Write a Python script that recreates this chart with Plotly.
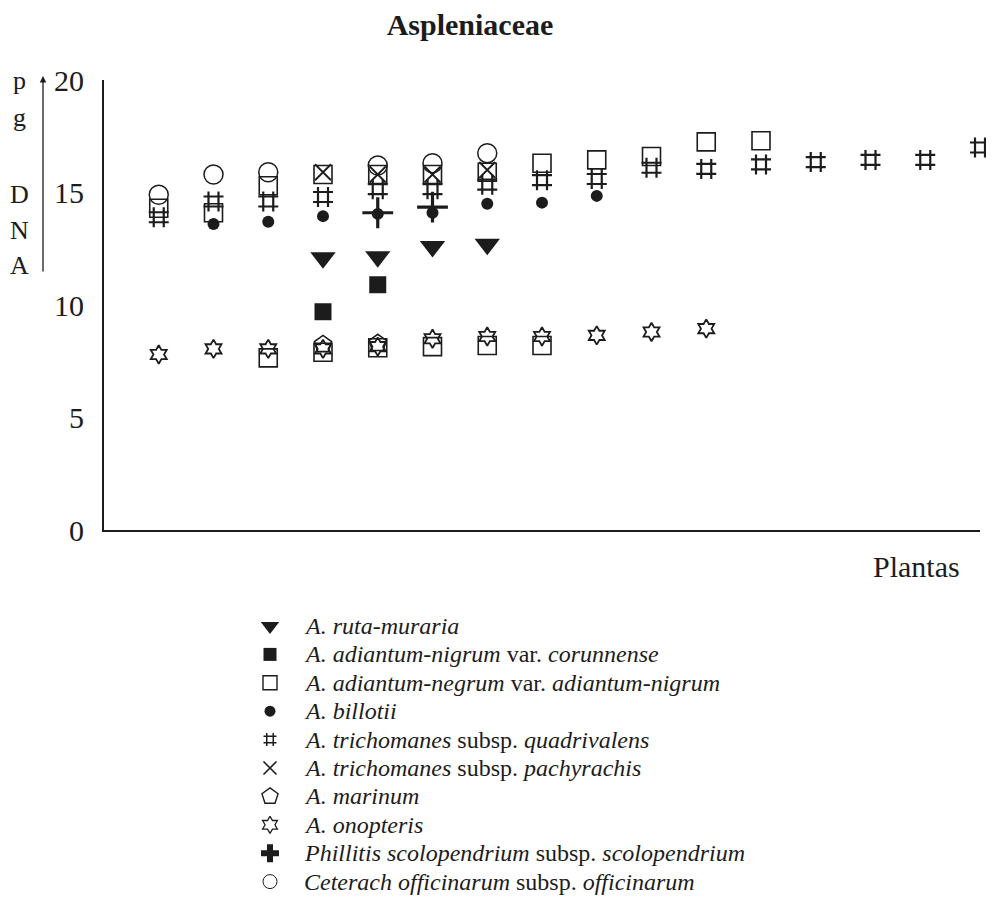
import plotly.graph_objects as go

# ---- data (pg DNA per plant) ----
ruta_x = [4, 5, 6, 7]
ruta_y = [12.1, 12.15, 12.6, 12.7]

corun_x = [4, 5]
corun_y = [9.7, 10.9]

adnig_x = [1, 2, 3, 4, 5, 6, 7, 8, 9, 10, 11, 12, 3, 4, 5, 6, 7, 8]
adnig_y = [14.3, 14.1, 15.3, 15.8, 15.8, 15.8, 15.9, 16.3, 16.45, 16.6, 17.25, 17.3,
           7.65, 7.9, 8.1, 8.15, 8.2, 8.2]

billo_x = [2, 3, 4, 5, 6, 7, 8, 9]
billo_y = [13.6, 13.7, 13.95, 14.05, 14.1, 14.5, 14.55, 14.85]

quadr_x = [1, 2, 3, 4, 5, 6, 7, 8, 9, 10, 11, 12, 13, 14, 15, 16]
quadr_y = [13.9, 14.6, 14.6, 14.8, 15.15, 15.15, 15.35, 15.55, 15.6, 16.1, 16.05,
           16.25, 16.35, 16.45, 16.45, 17.0]

pachy_x = [4, 5, 6, 7]
pachy_y = [15.9, 15.8, 15.8, 16.0]

marin_x = [4, 5]
marin_y = [8.25, 8.3]

onop_x = [1, 2, 3, 4, 5, 6, 7, 8, 9, 10, 11]
onop_y = [7.8, 8.05, 8.05, 8.05, 8.15, 8.5, 8.6, 8.6, 8.65, 8.8, 8.95]

phil_x = [5, 6]
phil_y = [14.1, 14.35]

ceter_x = [1, 2, 3, 5, 6, 7]
ceter_y = [14.9, 15.8, 15.9, 16.2, 16.3, 16.75]

y_ticks = [0, 5, 10, 15, 20]

legend_names = [
    "<i>A. ruta-muraria</i>",
    "<i>A. adiantum-nigrum</i> var. <i>corunnense</i>",
    "<i>A. adiantum-negrum</i> var. <i>adiantum-nigrum</i>",
    "<i>A. billotii</i>",
    "<i>A. trichomanes</i> subsp. <i>quadrivalens</i>",
    "<i>A. trichomanes</i> subsp. <i>pachyrachis</i>",
    "<i>A. marinum</i>",
    "<i>A. onopteris</i>",
    "<i>Phillitis scolopendrium</i> subsp. <i>scolopendrium</i>",
    "<i>Ceterach officinarum</i> subsp. <i>officinarum</i>",
]

INK = "#1c1c1c"
SERIF = "Liberation Serif, Times New Roman, serif"

# (x, y, chart symbol, chart size, line width, legend symbol, legend size, legend lw)
series = [
    (ruta_x, ruta_y, "triangle-down", 22, 0, "triangle-down", 16, 0),
    (corun_x, corun_y, "square", 17, 0, "square", 13, 0),
    (adnig_x, adnig_y, "square-open", 18, 1.6, "square-open", 14, 1.4),
    (billo_x, billo_y, "circle", 12, 0, "circle", 11, 0),
    (quadr_x, quadr_y, "hash-open", 20, 2.2, "hash-open", 13, 1.5),
    (pachy_x, pachy_y, "x-thin-open", 16, 1.8, "x-thin-open", 13, 1.6),
    (marin_x, marin_y, "pentagon-open", 18, 1.6, "pentagon-open", 17, 1.4),
    (onop_x, onop_y, "hexagram-open", 14, 1.8, "hexagram-open", 13, 1.3),
    (phil_x, phil_y, "cross-thin-open", 22, 3.2, "cross", 15, 0),
    (ceter_x, ceter_y, "circle-open", 19, 1.5, "circle-open", 14, 1.0),
]

# page offset of the figure inside the browser page (body margin)
OFF = 8
W, H = 994, 898
ML, MR, MT, MB = 104 - OFF, W - (980 - OFF), 80 - OFF, 16
PW, PH = W - ML - MR, H - MT - MB
Y0_FIG = 530 - OFF          # pixel row of y = 0 in figure coordinates


def px(x_ref):
    return (x_ref - OFF - ML) / PW


def py(y_ref):
    return (H - MB - (y_ref - OFF)) / PH


fig = go.Figure()
for (xs, ys, sym, size, lw, _ls, _lsz, _llw), name in zip(series, legend_names):
    fig.add_trace(go.Scatter(
        x=xs, y=ys, mode="markers", name=name, cliponaxis=False,
        showlegend=False, xaxis="x", yaxis="y",
        marker=dict(symbol=sym, size=size, color=INK, opacity=1,
                    line=dict(color=INK, width=lw)),
    ))

# hand-built legend on its own hidden axes (rows 0..9)
rows = list(range(len(legend_names)))
fig.add_trace(go.Scatter(
    x=[0] * len(rows), y=rows, mode="markers", showlegend=False,
    xaxis="x2", yaxis="y2", cliponaxis=False, hoverinfo="skip",
    marker=dict(symbol=[s[5] for s in series], size=[s[6] for s in series],
                color=INK, opacity=1,
                line=dict(color=INK, width=[s[7] for s in series])),
))
TEXT_GAP = 32
for r, name in zip(rows, legend_names):
    fig.add_annotation(text=name, xref="x2", yref="y2", x=TEXT_GAP, y=r,
                       xanchor="left", yanchor="middle", showarrow=False,
                       font=dict(family=SERIF, size=24, color=INK))

ROW_H = 28.4
first_row_fig = 626 - OFF
legend_top_fig = Y0_FIG
legend_bot_fig = H - MB
sym_x_fig = 270 - OFF
main_bottom = (H - MB - Y0_FIG) / PH

fig.update_layout(
    width=W, height=H,
    margin=dict(l=ML, r=MR, t=MT, b=MB, autoexpand=False),
    paper_bgcolor="white", plot_bgcolor="white",
    font=dict(family=SERIF, color=INK),
    title=dict(text="<b>Aspleniaceae</b>", x=(470 - OFF) / W,
               y=1 - (24 - OFF) / H, xanchor="center", yanchor="middle",
               font=dict(family=SERIF, size=30, color=INK)),
    showlegend=False,
    xaxis=dict(range=[0, 16], domain=[0, 1], anchor="y", showline=True,
               linecolor=INK, linewidth=2, showgrid=False, zeroline=False,
               showticklabels=False, ticks=""),
    yaxis=dict(range=[0, 20], domain=[main_bottom, 1], anchor="x",
               showline=True, linecolor=INK, linewidth=2, showgrid=False,
               zeroline=False, tickvals=y_ticks, ticks="",
               ticklabelstandoff=12,
               tickfont=dict(family=SERIF, size=30, color=INK)),
    xaxis2=dict(domain=[0, 1], anchor="y2", visible=False,
                range=[ML - sym_x_fig, W - MR - sym_x_fig]),
    yaxis2=dict(domain=[0, main_bottom], anchor="x2", visible=False,
                range=[(legend_bot_fig - first_row_fig) / ROW_H,
                       -(first_row_fig - legend_top_fig) / ROW_H]),
)

# vertical axis title letters
for letter, yref_px in [("p", 80), ("g", 117), ("D", 194), ("N", 230), ("A", 265)]:
    fig.add_annotation(text=letter, xref="paper", yref="paper",
                       x=px(19), y=py(yref_px),
                       xanchor="center", yanchor="middle", showarrow=False,
                       font=dict(family=SERIF, size=26, color=INK))

# arrow beside the axis title
fig.add_annotation(text="", xref="paper", yref="paper",
                   x=px(43), y=py(76), ax=0, ay=197,
                   axref="pixel", ayref="pixel",
                   showarrow=True, arrowhead=2, arrowsize=1, arrowwidth=1.3,
                   arrowcolor=INK, standoff=0)

fig.add_annotation(text="Plantas", xref="paper", yref="paper",
                   x=px(916), y=py(566),
                   xanchor="center", yanchor="middle", showarrow=False,
                   font=dict(family=SERIF, size=30, color=INK))

fig.write_html("out.html")
